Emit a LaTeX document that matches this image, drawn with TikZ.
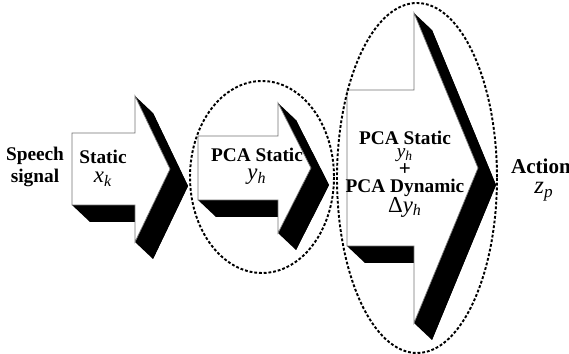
\documentclass[tikz,border=0pt]{standalone}
\usepackage{fontspec}
\setmainfont{Liberation Serif}
\begin{document}
\begin{tikzpicture}[
    x={(0.02cm,0)}, y={(0,-0.02cm)},
    txt/.style={font=\bfseries\fontsize{11}{12}\selectfont, inner sep=0pt},
    var/.style={font=\itshape\fontsize{13}{13}\selectfont, inner sep=0pt},
    grupo/.style={draw=black, line width=1.1pt, dash pattern=on 1.6pt off 1.1pt}
  ]
    \useasboundingbox (0,0) rectangle (569,354);

    % --- FLECHAS (cara blanca + sombra negra) ---
    % \xl: cuerpo izq, \xn: cuello, \xp: punta, \bh/\hh: medio alto cuerpo/cabeza
    \foreach \xl/\xn/\xp/\yc/\bh/\hh in {72/135/170/169/36/73, 198/278/311/168/32/65, 347/414/478/168/78/155} {
        % sombra
        \fill[black, shift={(18,17)}] (\xl,\yc-\bh) -- (\xn,\yc-\bh) -- (\xn,\yc-\hh) -- (\xp,\yc)
              -- (\xn,\yc+\hh) -- (\xn,\yc+\bh) -- (\xl,\yc+\bh) -- cycle;
        \fill[black] (\xn,\yc-\hh) -- (\xn+18,\yc-\hh+17) -- (\xp+18,\yc+17) -- (\xn+18,\yc+\hh+17)
              -- (\xn,\yc+\hh) -- (\xp,\yc) -- cycle;
        \fill[black] (\xl,\yc+\bh) -- (\xl+18,\yc+\bh+17) -- (\xn+18,\yc+\bh+17) -- (\xn,\yc+\bh) -- cycle;
        % cara frontal
        \filldraw[fill=white, draw=black!55, line width=0.4pt] (\xl,\yc-\bh) -- (\xn,\yc-\bh) -- (\xn,\yc-\hh)
              -- (\xp,\yc) -- (\xn,\yc+\hh) -- (\xn,\yc+\bh) -- (\xl,\yc+\bh) -- cycle;
    }

    % --- ELIPSES PUNTEADAS ---
    \draw[grupo] (262,177) ellipse [x radius=72, y radius=96];
    \draw[grupo] (417,178) ellipse [x radius=80, y radius=175];

    % --- TEXTOS ---
    \node[txt, align=center] (entrada) at (35,167) {Speech\\[1pt]signal};
    \node[txt] (est1) at (103,157) {Static};
    \node[var] (xk) at (103,179) {x\textsubscript{k}};

    \node[txt] (est2) at (257,155) {PCA Static};
    \node[var] (yh2) at (257,177) {y\textsubscript{h}};

    \node[txt] (est3) at (405,138) {PCA Static};
    \node[var, font=\itshape\fontsize{11}{11}\selectfont] (yh3) at (405,155) {y\textsubscript{h}};
    \node[font=\bfseries\fontsize{12}{12}\selectfont, inner sep=0pt] (mas) at (405,170) {+};
    \node[txt] (din3) at (405,188) {PCA Dynamic};
    \node[var, font=\fontsize{13}{13}\selectfont] (dyh) at (405,207) {Δ\textit{y}\textsubscript{\textit{h}}};

    \node[txt, font=\bfseries\fontsize{12}{12}\selectfont] (accion) at (541,166) {Action};
    \node[var, font=\itshape\fontsize{14}{14}\selectfont] (zp) at (544,192) {z\textsubscript{p}};

\end{tikzpicture}
\end{document}
